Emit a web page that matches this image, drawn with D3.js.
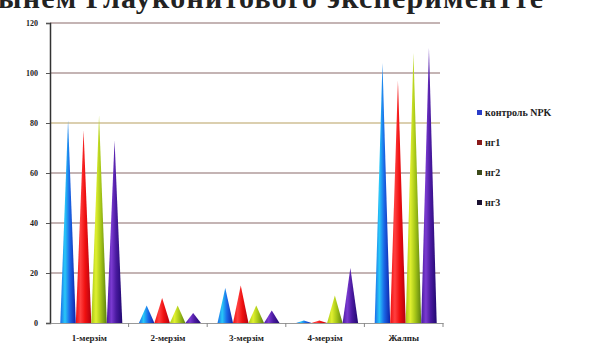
<!DOCTYPE html>
<html>
<head>
<meta charset="utf-8">
<title>Cone chart</title>
<style>
  body { margin: 0; background: #fff; }
  svg { display: block; }
  .tick text, .lbl { font-family: "Liberation Serif", serif; font-weight: bold; fill: #222; }
</style>
</head>
<body>
<script src="https://cdn.jsdelivr.net/npm/d3@7/dist/d3.min.js"></script>
<script>
var W = 594, H = 352;

// data
var categories = ["1-мерзім", "2-мерзім", "3-мерзім", "4-мерзім", "Жалпы"];
var seriesNames = ["контроль NPK", "нг1", "нг2", "нг3"];
var control = [81, 7, 14, 1, 104];
var ng1 = [77, 10, 15, 1, 97];
var ng2 = [83, 7, 7, 11, 108];
var ng3 = [73, 4, 5, 22, 110];
var yTicks = [0, 20, 40, 60, 80, 100, 120];

var seriesValues = [control, ng1, ng2, ng3];
var light = ["#28c8f8", "#ff4040", "#e0f030", "#7a3ad0"];
var mid = ["#1a6ae8", "#f01010", "#a8c818", "#4a1aa0"];
var dark = ["#1020a8", "#b00010", "#5a8010", "#200870"];
var legendCol = ["#2a3cc8", "#8a1a1a", "#3c4a1a", "#1a1030"];

var svg = d3.select("body").append("svg").attr("width", W).attr("height", H);

var x0 = d3.scaleBand().domain(categories).range([50, 443]);
var x1 = d3.scaleBand().domain(d3.range(4)).range([0, 62]);
var y = d3.scaleLinear().domain([0, 120]).range([323, 23]);

// title, cut off at the top edge as in the source
svg.append("text").attr("class", "lbl")
  .attr("x", -2).attr("y", 8)
  .attr("font-size", 30)
  .attr("textLength", 545)
  .text("ынем Глауконитового экспериментте");

var defs = svg.append("defs");
seriesNames.forEach(function(s, i) {
  var g = defs.append("linearGradient").attr("id", "g" + i)
    .attr("x1", "0%").attr("x2", "100%").attr("y1", "0%").attr("y2", "0%");
  g.append("stop").attr("offset", "0%").attr("stop-color", mid[i]);
  g.append("stop").attr("offset", "30%").attr("stop-color", light[i]);
  g.append("stop").attr("offset", "60%").attr("stop-color", mid[i]);
  g.append("stop").attr("offset", "100%").attr("stop-color", dark[i]);
});

// gridlines
svg.append("g").selectAll("line").data(yTicks.filter(function(d) { return d > 0; }))
  .enter().append("line")
  .attr("x1", 50).attr("x2", 440)
  .attr("y1", function(d) { return y(d); }).attr("y2", function(d) { return y(d); })
  .attr("stroke", function(d) { return d == 80 ? "#b8a060" : "#8a6a6a"; })
  .attr("stroke-width", 1.2);

// y axis
var yAxis = svg.append("g").attr("transform", "translate(50,0)")
  .call(d3.axisLeft(y).tickValues(yTicks).tickSize(4).tickPadding(8));
yAxis.selectAll("text").attr("font-size", 8);
yAxis.select(".domain").attr("stroke", "#333").attr("stroke-width", 1.5);
yAxis.selectAll(".tick line").attr("stroke", "#555");

// x axis
var xAxis = svg.append("g").attr("transform", "translate(0,323)")
  .call(d3.axisBottom(x0).tickSize(0).tickPadding(12));
xAxis.selectAll("text").attr("font-size", 9);
xAxis.select(".domain").attr("stroke", "#999");
svg.append("g").selectAll("line").data(categories)
  .enter().append("line")
  .attr("x1", function(d) { return x0(d) + x0.bandwidth(); })
  .attr("x2", function(d) { return x0(d) + x0.bandwidth(); })
  .attr("y1", 323).attr("y2", 327).attr("stroke", "#888");

// cones
var groups = svg.append("g").selectAll("g").data(categories)
  .enter().append("g")
  .attr("transform", function(d) { return "translate(" + (x0(d) + (x0.bandwidth() - 62) / 2 + 2) + ",0)"; });

groups.selectAll("path")
  .data(function(d, ci) { return seriesValues.map(function(v, si) { return { s: si, v: v[ci] }; }); })
  .enter().append("path")
  .attr("fill", function(d) { return "url(#g" + d.s + ")"; })
  .attr("d", function(d) {
    var l = x1(d.s), r = l + x1.bandwidth(), c = (l + r) / 2;
    return "M" + l + "," + y(0) + "L" + c + "," + y(d.v) + "L" + r + "," + y(0) + "Z";
  });

// legend
var leg = svg.append("g").selectAll("g").data(seriesNames)
  .enter().append("g")
  .attr("transform", function(d, i) { return "translate(479," + (113 + i * 30) + ")"; });
leg.append("rect").attr("x", -2).attr("y", -3).attr("width", 5).attr("height", 5)
  .attr("fill", function(d, i) { return legendCol[i]; });
leg.append("text").attr("class", "lbl").attr("x", 6).attr("y", 3)
  .attr("font-size", 10).text(function(d) { return d; });
</script>
</body>
</html>
